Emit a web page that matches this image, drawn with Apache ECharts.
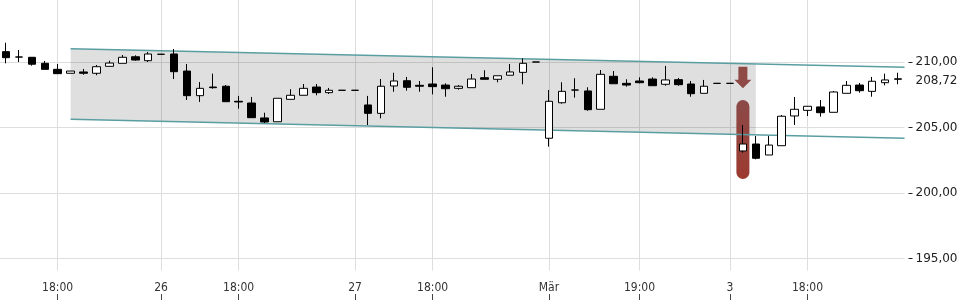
<!DOCTYPE html>
<html>
<head>
<meta charset="utf-8">
<script src="https://cdn.jsdelivr.net/npm/echarts@6/dist/echarts.min.js"></script>
<style>
html,body{margin:0;padding:0;background:#fff;}
#chart{width:960px;height:300px;}
</style>
</head>
<body>
<div id="chart"></div>
<script>
// ---- data ----
const tickIndex = [4, 12, 18, 27, 33, 42, 49, 56, 62];
const tickText = ['18:00', '26', '18:00', '27', '18:00', 'Mär', '19:00', '3', '18:00'];

const openVals = [210.79,210.38,210.36,209.90,209.44,209.14,209.24,209.14,209.67,209.90,
 210.40,210.10,210.59,210.61,209.31,207.43,208.09,208.15,207.00,206.87,
 205.73,205.44,207.15,207.46,208.09,207.66,207.84,207.84,206.72,206.08,
 208.17,208.57,208.22,208.32,208.24,207.99,208.04,208.80,208.68,208.99,
 209.21,210.00,204.18,206.89,207.86,207.79,206.39,208.91,208.37,208.55,
 208.70,208.30,208.65,208.32,207.61,208.37,208.37,203.21,203.74,202.90,
 203.61,205.88,206.31,206.57,206.16,207.61,208.24,207.76,208.42,208.68];
const closeVals = [210.33,210.38,209.83,209.44,209.11,209.31,209.14,209.64,209.92,210.36,
 210.15,210.61,210.59,209.26,207.43,207.99,208.04,206.97,206.95,205.75,
 205.42,207.23,207.46,207.99,207.66,207.84,207.84,207.84,206.08,208.15,
 208.55,208.07,208.15,208.12,207.96,208.15,208.70,208.68,208.95,209.24,
 209.90,210.00,207.00,207.76,207.86,206.36,209.06,208.34,208.24,208.42,
 208.19,208.63,208.27,207.58,208.15,208.37,208.37,203.74,202.65,203.66,
 205.86,206.39,206.62,206.13,207.71,208.22,207.81,208.53,208.63,208.72];
const lowVals = [209.90,210.00,209.72,209.44,209.11,209.14,209.03,208.99,209.67,209.90,
 210.10,210.00,210.59,208.70,207.10,206.95,207.96,206.97,206.44,205.75,
 205.34,205.44,207.15,207.46,207.46,207.56,207.84,207.84,205.19,205.70,
 207.73,207.81,207.73,207.53,207.35,207.89,208.04,208.68,208.45,208.99,
 208.30,210.00,203.54,206.82,207.28,206.28,206.39,208.34,208.12,208.37,
 208.19,208.19,208.19,207.35,207.61,208.37,208.37,203.08,202.57,202.90,
 203.61,205.19,205.88,205.83,206.16,207.61,207.66,207.35,208.22,208.30];
const highVals = [211.47,210.92,210.36,210.08,209.85,209.31,209.47,209.77,210.10,210.53,
 210.51,210.76,210.59,210.99,209.85,208.47,209.11,208.24,207.41,207.33,
 206.13,207.23,207.92,208.32,208.32,208.02,207.84,207.84,207.41,208.70,
 209.18,208.86,208.55,209.60,208.37,208.24,209.08,209.37,208.95,209.85,
 210.28,210.00,207.86,208.45,208.76,208.07,209.39,209.31,208.68,208.83,
 208.83,209.70,208.78,208.55,208.63,208.37,208.37,205.19,204.35,204.35,
 205.95,207.33,206.62,207.10,207.79,208.55,208.40,208.86,209.11,209.18];

const lastPrice = 208.72;
const yTicks = [195, 200, 205, 210];

// trend channel (x = candle index, y = price)
const channelUpper = [[5, 211.02], [69.5, 209.60]];
const channelLower = [[5, 205.63], [69.5, 204.18]];
const bandPolygon = [[5, 211.02], [58, 209.85], [58, 204.44], [5, 205.63]];

// signal marker (candle index, top, bottom)
const signalArrow = [[57, 209.64, 207.99]];
const signalBar = [[57, 207.10, 201.07]];

// ---- chart ----
const categories = openVals.map((_, i) => 'c' + i);
const candleData = openVals.map((o, i) => [o, closeVals[i], lowVals[i], highVals[i]]);
const isTick = (idx) => tickIndex.indexOf(idx) >= 0;
const labelFor = (v, idx) => { const k = tickIndex.indexOf(idx); return k >= 0 ? tickText[k] : ''; };
const fmt = (v) => v.toFixed(2).replace('.', ',');

const gridLeft = -0.5, gridWidth = 905;
const gridColor = '#dddddd';
const chart = echarts.init(document.getElementById('chart'), null, {renderer: 'canvas'});

const option = {
  animation: false,
  backgroundColor: '#ffffff',
  grid: [
    {left: gridLeft, width: gridWidth, top: -3.5, height: 262, outerBoundsMode: 'none', containLabel: false},
    {left: gridLeft, width: gridWidth, top: 258.5, height: 12, outerBoundsMode: 'none', containLabel: false},
    {left: gridLeft, width: gridWidth, top: 270.5, height: 23.5, outerBoundsMode: 'none', containLabel: false}
  ],
  xAxis: [
    {type: 'category', gridIndex: 0, data: categories, boundaryGap: true,
     axisLine: {show: false, onZero: false}, axisTick: {show: false}, axisLabel: {show: false},
     splitLine: {show: true, interval: isTick, alignWithLabel: true, lineStyle: {color: gridColor, width: 1}}},
    {type: 'value', gridIndex: 0, min: -0.5, max: 69.5, show: false, axisLine: {onZero: false}},
    {type: 'category', gridIndex: 1, data: categories, boundaryGap: true,
     axisLine: {show: false, onZero: false}, axisTick: {show: false},
     splitLine: {show: true, interval: isTick, alignWithLabel: true, lineStyle: {color: gridColor, width: 1}},
     axisLabel: {show: true, interval: isTick, formatter: labelFor, margin: 11,
       fontFamily: 'DejaVu Sans Condensed, DejaVu Sans', fontSize: 12, color: '#333'}},
    {type: 'category', gridIndex: 2, data: categories, boundaryGap: true, position: 'bottom',
     axisLine: {show: true, onZero: false, lineStyle: {color: 'rgba(0,0,0,0)', width: 1}},
     axisLabel: {show: false}, splitLine: {show: false},
     axisTick: {show: true, inside: false, length: 6, interval: isTick, alignWithLabel: true,
       lineStyle: {color: '#444444', width: 1}}}
  ],
  yAxis: [
    {type: 'value', gridIndex: 0, position: 'right', offset: 4, min: 195, max: 215, interval: 5,
     axisLine: {show: false, onZero: false},
     axisTick: {show: true, length: 4, lineStyle: {color: '#222'}},
     axisLabel: {show: true, margin: 7, formatter: (v) => (yTicks.indexOf(v) >= 0 ? fmt(v) : ''),
       fontFamily: 'DejaVu Sans', fontSize: 12, color: '#222'},
     splitLine: {show: true, lineStyle: {color: gridColor, width: 1}}},
    {type: 'value', gridIndex: 1, show: false, min: 0, max: 1, axisLine: {onZero: false}},
    {type: 'value', gridIndex: 2, show: false, min: 0, max: 1, axisLine: {onZero: false}}
  ],
  series: [
    {
      type: 'custom', name: 'band', xAxisIndex: 1, yAxisIndex: 0, z: 1, silent: true,
      data: [[0]],
      renderItem: (params, api) => ({
        type: 'polygon',
        shape: {points: bandPolygon.map(p => api.coord(p))},
        style: {fill: 'rgba(0,0,0,0.125)'}
      })
    },
    {
      type: 'custom', name: 'signalBar', xAxisIndex: 1, yAxisIndex: 0, z: 2, silent: true,
      data: signalBar,
      renderItem: (params, api) => {
        const top = api.coord([api.value(0), api.value(1)]);
        const bot = api.coord([api.value(0), api.value(2)]);
        return {
          type: 'rect',
          shape: {x: top[0] - 6.5, y: top[1], width: 13, height: bot[1] - top[1], r: 6.5},
          style: {fill: new echarts.graphic.LinearGradient(0, 0, 0, 1, [
            {offset: 0, color: '#8b4a48'}, {offset: 1, color: '#9d3a2f'}])}
        };
      }
    },
    {
      type: 'line', name: 'upper', xAxisIndex: 1, yAxisIndex: 0, z: 3, data: channelUpper,
      symbol: 'none', clip: false, silent: true,
      lineStyle: {color: '#5a9ea2', width: 1.5}
    },
    {
      type: 'line', name: 'lower', xAxisIndex: 1, yAxisIndex: 0, z: 3, data: channelLower,
      symbol: 'none', clip: false, silent: true,
      lineStyle: {color: '#5a9ea2', width: 1.5}
    },
    {
      type: 'candlestick', name: 'price', xAxisIndex: 0, yAxisIndex: 0, z: 4,
      data: candleData, barWidth: 8, clip: false,
      itemStyle: {color: '#ffffff', color0: '#000000', borderColor: '#000000', borderColor0: '#000000',
        borderColorDoji: '#000000', borderWidth: 1},
      markLine: {
        silent: true, symbol: ['none', 'none'], clip: false,
        lineStyle: {color: 'rgba(0,0,0,0)', width: 0},
        label: {show: true, position: 'end', distance: 11, offset: [0, 2], formatter: fmt(lastPrice),
          fontFamily: 'DejaVu Sans', fontSize: 12, color: '#222'},
        emphasis: {disabled: true},
        data: [{yAxis: lastPrice}]
      }
    },
    {
      type: 'custom', name: 'signalArrow', xAxisIndex: 1, yAxisIndex: 0, z: 5, silent: true,
      data: signalArrow,
      renderItem: (params, api) => {
        const top = api.coord([api.value(0), api.value(1)]);
        const bot = api.coord([api.value(0), api.value(2)]);
        const cx = top[0];
        const headY = bot[1] - 8.5;
        return {
          type: 'polygon',
          shape: {points: [
            [cx - 4.5, top[1]], [cx + 4.5, top[1]], [cx + 4.5, headY], [cx + 8.5, headY],
            [cx, bot[1]], [cx - 8.5, headY], [cx - 4.5, headY]
          ]},
          style: {fill: '#8f4a46'}
        };
      }
    }
  ]
};
chart.setOption(option);
</script>
</body>
</html>
